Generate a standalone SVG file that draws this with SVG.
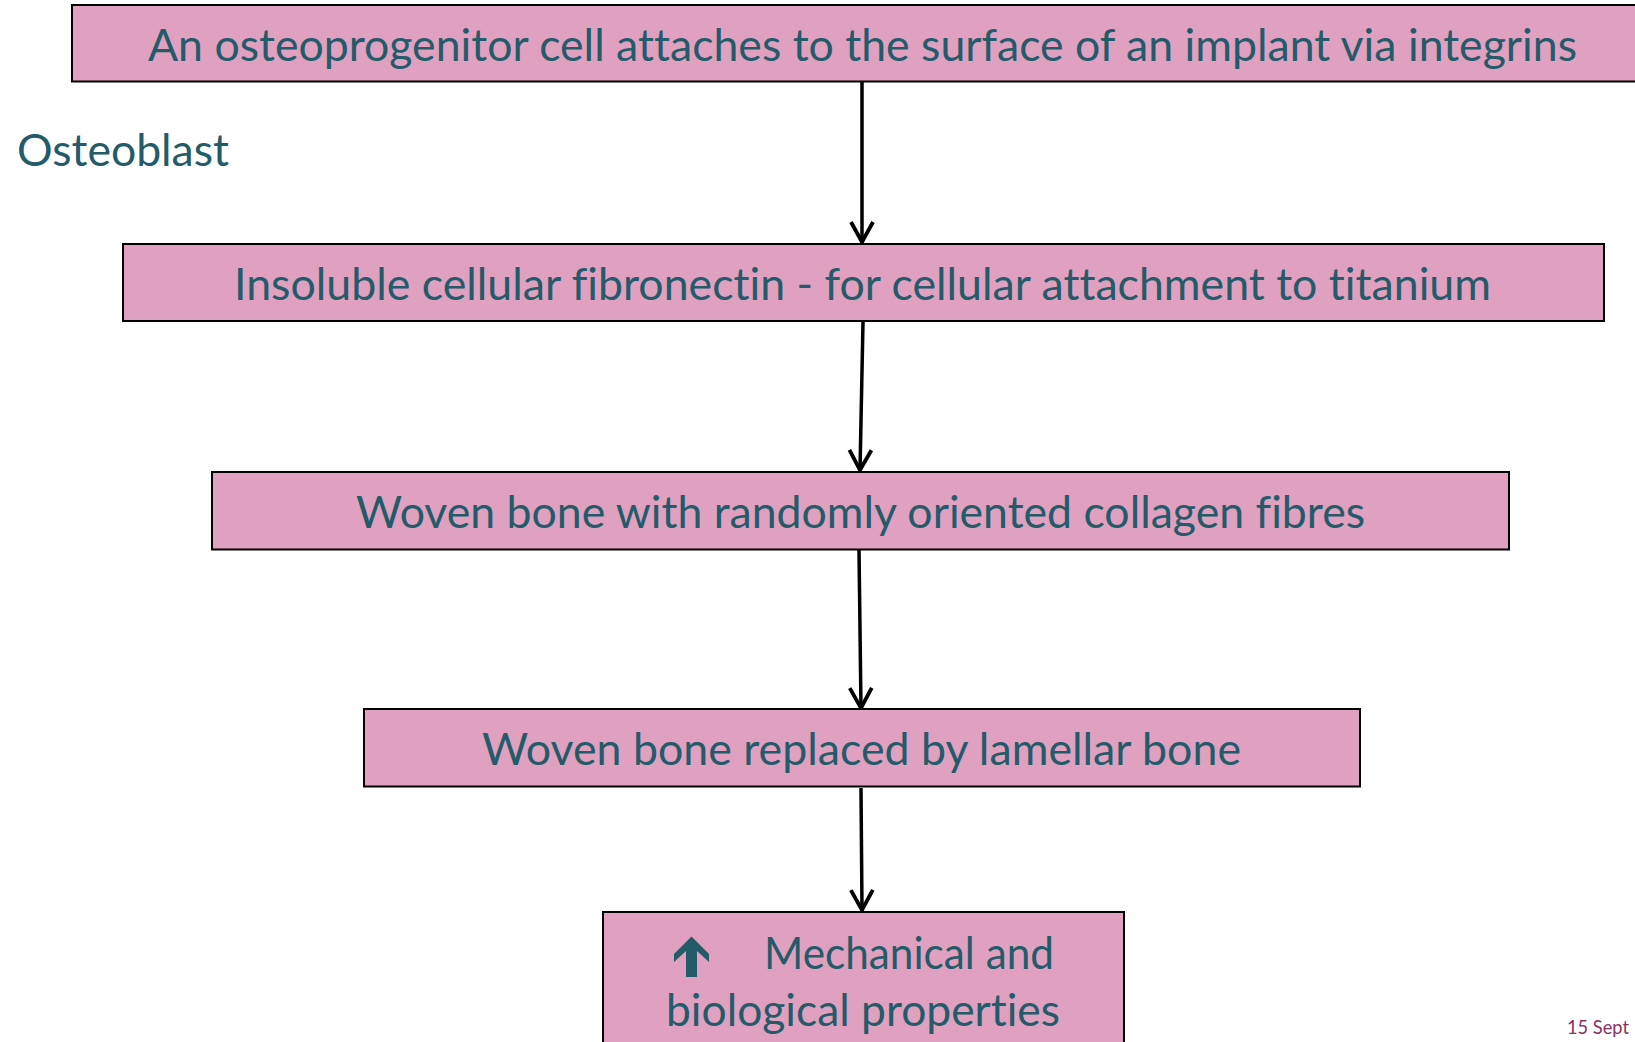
<svg xmlns="http://www.w3.org/2000/svg" width="1635" height="1042" viewBox="0 0 1635 1042">
<style>
.box{fill:#E0A0C0;stroke:#000;stroke-width:2}
.t{font-family:Lato,"Liberation Sans",sans-serif;font-size:45px;fill:#235B69;font-variant-ligatures:none}
.c{fill:none;stroke:#000;stroke-width:3.5}
.foot{font-family:Lato,"Liberation Sans",sans-serif;font-size:20px;fill:#8B2F5E}
</style>
<defs>
<marker id="chev" viewBox="-24 -14 28 28" refX="0" refY="0" markerWidth="28" markerHeight="28" markerUnits="userSpaceOnUse" orient="auto">
<path d="M-20,-11 L0,0 L-20,11" fill="none" stroke="#000" stroke-width="3.8" stroke-linejoin="miter"/>
</marker>
</defs>
<rect width="1635" height="1042" fill="#fff"/>
<text class="t" x="17" y="166" textLength="212" lengthAdjust="spacingAndGlyphs">Osteoblast</text>
<g id="connectors">
<line class="c" x1="862" y1="82" x2="862" y2="242" marker-end="url(#chev)"/>
<line class="c" x1="863" y1="322" x2="860" y2="470" marker-end="url(#chev)"/>
<line class="c" x1="859" y1="550" x2="861" y2="708" marker-end="url(#chev)"/>
<line class="c" x1="861" y1="788" x2="862" y2="910" marker-end="url(#chev)"/>
</g>
<g id="n1">
<rect class="box" x="72" y="5" width="1600" height="76.5"/>
<text class="t" x="148" y="61" textLength="1429" lengthAdjust="spacingAndGlyphs">An osteoprogenitor cell attaches to the surface of an implant via integrins</text>
</g>
<g id="n2">
<rect class="box" x="123" y="244" width="1481" height="77"/>
<text class="t" x="234" y="300" textLength="1257" lengthAdjust="spacingAndGlyphs">Insoluble cellular fibronectin - for cellular attachment to titanium</text>
</g>
<g id="n3">
<rect class="box" x="212" y="472" width="1297" height="77.5"/>
<text class="t" x="356" y="528" textLength="1009" lengthAdjust="spacingAndGlyphs">Woven bone with randomly oriented collagen fibres</text>
</g>
<g id="n4">
<rect class="box" x="364" y="709" width="996" height="77.5"/>
<text class="t" x="482" y="765" textLength="759" lengthAdjust="spacingAndGlyphs">Woven bone replaced by lamellar bone</text>
</g>
<g id="n5">
<rect class="box" x="603" y="912" width="521" height="140"/>
<polygon points="691.5,936.5 709,954 709,962 697,951 697,977 686,977 686,951 674,962 674,954" fill="#235B69"/>
<text class="t" x="764" y="969" textLength="290" lengthAdjust="spacingAndGlyphs">Mechanical and</text>
<text class="t" x="666" y="1026" textLength="394" lengthAdjust="spacingAndGlyphs">biological properties</text>
</g>
<text class="foot" x="1567" y="1034" textLength="62" lengthAdjust="spacingAndGlyphs">15 Sept</text>
</svg>
